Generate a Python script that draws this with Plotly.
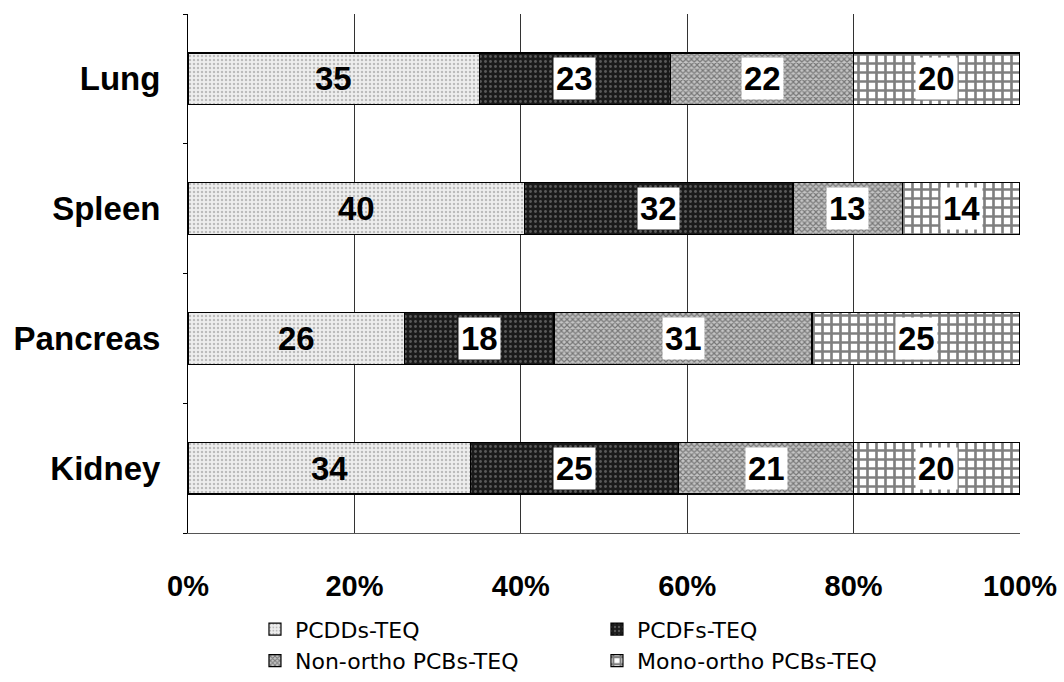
import plotly.graph_objects as go

organs = ["Lung", "Spleen", "Pancreas", "Kidney"]
series_names = ["PCDDs-TEQ", "PCDFs-TEQ", "Non-ortho PCBs-TEQ", "Mono-ortho PCBs-TEQ"]
pcdds = [35, 40, 26, 34]
pcdfs = [23, 32, 18, 25]
nonortho = [22, 13, 31, 21]
monoortho = [20, 14, 25, 20]
tick_vals = [0, 20, 40, 60, 80, 100]
tick_text = ["0%", "20%", "40%", "60%", "80%", "100%"]

series = [pcdds, pcdfs, nonortho, monoortho]
styles = [
    dict(color="#e6e6e6", pattern=dict(shape=".", fgcolor="#8a8a8a", bgcolor="#eeeeee", size=4, solidity=0.3)),
    dict(color="#2a2a2a", pattern=dict(shape=".", fgcolor="#9a9a9a", bgcolor="#1a1a1a", size=5, solidity=0.25)),
    dict(color="#9a9a9a", pattern=dict(shape="x", fgcolor="#2a2a2a", bgcolor="#c4c4c4", size=4, solidity=0.5)),
    dict(color="#808080", pattern=dict(shape="+", fgcolor="#000000", bgcolor="#ffffff", size=9, solidity=0.5)),
]

label_font = "Liberation Sans Narrow, Liberation Sans, Arial, sans-serif"
bold_font = "Liberation Sans, Arial, sans-serif"
legend_font = "DejaVu Sans, sans-serif"

fig = go.Figure()
for name, vals, st in zip(series_names, series, styles):
    fig.add_trace(go.Bar(
        y=organs, x=vals, name=name, orientation="h",
        marker=dict(color=st["color"], pattern=st["pattern"], line=dict(color="#000000", width=1.2)),
        width=0.4,
    ))

totals = [sum(s[i] for s in series) for i in range(len(organs))]
for i, organ in enumerate(organs):
    cum = 0
    for j, s in enumerate(series):
        v = s[i]
        xm = (cum + v / 2) / totals[i] * 100
        cum += v
        fig.add_annotation(
            x=xm, y=organ, text="<b>%d</b>" % v, showarrow=False,
            font=dict(family=label_font, size=33, color="#000000"),
            bgcolor=None if j == 0 else "#ffffff",
            borderpad=2,
        )

fig.update_layout(
    barmode="stack", barnorm="percent",
    width=1064, height=682,
    margin=dict(l=188, r=44, t=14, b=149, autoexpand=False),
    plot_bgcolor="#ffffff", paper_bgcolor="#ffffff",
    font=dict(family=bold_font, color="#000000"),
    legend=dict(
        orientation="h", x=0.0805, xanchor="left", y=-0.145, yanchor="top",
        xref="paper", yref="paper", entrywidth=297, entrywidthmode="pixels",
        font=dict(size=22, family=legend_font, color="#000000"),
        itemwidth=30, traceorder="normal", tracegroupgap=0,
        bgcolor="rgba(0,0,0,0)",
    ),
    showlegend=True,
)
fig.update_xaxes(
    range=[0, 100], tickvals=tick_vals, ticktext=tick_text,
    tickfont=dict(size=29, family=bold_font, weight="bold"),
    showgrid=True, gridcolor="#333333", gridwidth=1,
    showline=True, linecolor="#555555", linewidth=1,
    ticks="", ticklabelstandoff=27, zeroline=False, automargin=False,
)
fig.update_yaxes(
    categoryorder="array", categoryarray=organs[::-1],
    tickfont=dict(size=33, family=bold_font, weight="bold"),
    showline=True, linecolor="#000000", linewidth=1,
    ticks="outside", tickson="boundaries", ticklen=4, tickcolor="#000000",
    ticklabelstandoff=20, showgrid=False, automargin=False,
)

fig.write_html("out.html")
